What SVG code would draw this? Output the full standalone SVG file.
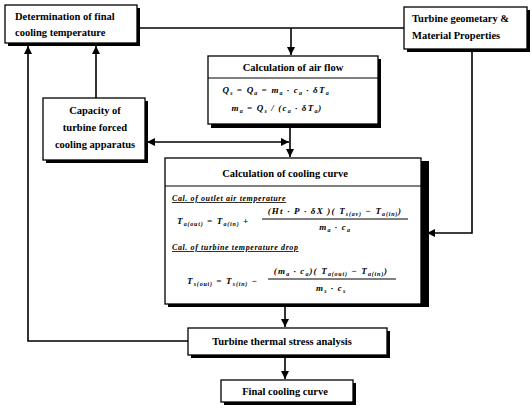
<svg xmlns="http://www.w3.org/2000/svg" width="532" height="409" viewBox="0 0 532 409">
<defs>
<style>
.box{fill:#fff;stroke:#000;stroke-width:1.3}
.sh{fill:#000}
.t{font-family:"Liberation Serif",serif;font-weight:bold;font-size:10.5px;fill:#000}
.f{font-family:"Liberation Serif",serif;font-style:italic;font-weight:bold;font-size:9px;letter-spacing:1.2px;fill:#000}
.s{font-size:6px;letter-spacing:0.8px}
.lab{font-family:"Liberation Serif",serif;font-style:italic;font-weight:bold;font-size:8px;letter-spacing:0.6px;text-decoration:underline}
.ln{stroke:#000;stroke-width:1.6;fill:none}
.fl{stroke:#000;stroke-width:1}
</style>
<marker id="ah" viewBox="0 0 10 10" refX="10" refY="5" markerWidth="8" markerHeight="8" markerUnits="userSpaceOnUse" orient="auto-start-reverse">
<path d="M0,0 L10,5 L0,10 z" fill="#000"/>
</marker>
</defs>

<g id="connectors">
<path class="ln" d="M137,28 H404"/>
<path class="ln" d="M291,28 V55" marker-end="url(#ah)"/>
<path class="ln" d="M96,98 V46" marker-end="url(#ah)"/>
<path class="ln" d="M188,341 H28 V46" marker-end="url(#ah)"/>
<path class="ln" d="M472,52 V233 H427" marker-end="url(#ah)"/>
<path class="ln" d="M290,127 V157" marker-end="url(#ah)"/>
<path class="ln" d="M147,142 H289" marker-start="url(#ah)" marker-end="url(#ah)"/>
<path class="ln" d="M285,307 V327" marker-end="url(#ah)"/>
<path class="ln" d="M285,358 V379" marker-end="url(#ah)"/>
</g>

<g id="final-temp">
<rect class="sh" x="8" y="8" width="132" height="38"/>
<rect class="box" x="5" y="5" width="132" height="38"/>
<text class="t" x="15" y="20">Determination of final</text>
<text class="t" x="15" y="36">cooling temperature</text>
</g>

<g id="turbine-geometry">
<rect class="sh" x="407" y="10" width="123" height="42"/>
<rect class="box" x="404" y="7" width="123" height="42"/>
<text class="t" x="412" y="22">Turbine geometary &amp;</text>
<text class="t" x="412" y="39">Material Properties</text>
</g>

<g id="air-flow">
<rect class="sh" x="211" y="59" width="170" height="69"/>
<rect class="box" x="208" y="56" width="170" height="68"/>
<line class="fl" x1="208" y1="78" x2="378" y2="78"/>
<text class="t" x="293" y="71" text-anchor="middle">Calculation of air flow</text>
<text class="f" x="276" y="93" text-anchor="middle">Q<tspan class="s" dy="2">s</tspan><tspan dy="-2"> = Q</tspan><tspan class="s" dy="2">a</tspan><tspan dy="-2"> = m</tspan><tspan class="s" dy="2">a</tspan><tspan dy="-2"> · c</tspan><tspan class="s" dy="2">a</tspan><tspan dy="-2"> · δT</tspan><tspan class="s" dy="2">a</tspan></text>
<text class="f" x="277" y="111" text-anchor="middle">m<tspan class="s" dy="2">a</tspan><tspan dy="-2"> = Q</tspan><tspan class="s" dy="2">s</tspan><tspan dy="-2"> / (c</tspan><tspan class="s" dy="2">a</tspan><tspan dy="-2"> · δT</tspan><tspan class="s" dy="2">a</tspan><tspan dy="-2">)</tspan></text>
</g>

<g id="capacity">
<rect class="sh" x="46" y="101" width="102" height="62"/>
<rect class="box" x="43" y="98" width="102" height="62"/>
<text class="t" x="95" y="114" text-anchor="middle">Capacity of</text>
<text class="t" x="95" y="131" text-anchor="middle">turbine forced</text>
<text class="t" x="95" y="148" text-anchor="middle">cooling apparatus</text>
</g>

<g id="cooling-curve">
<rect class="sh" x="168" y="161" width="261" height="146"/>
<rect class="box" x="165" y="158" width="256" height="146"/>
<line class="fl" x1="165" y1="186" x2="421" y2="186"/>
<text class="t" x="285" y="177" text-anchor="middle">Calculation of cooling curve</text>
<text class="lab" x="172" y="201">Cal. of outlet air temperature</text>
<text class="f" x="177" y="224">T<tspan class="s" dy="2">a(out)</tspan><tspan dy="-2"> = T</tspan><tspan class="s" dy="2">a(in)</tspan><tspan dy="-2"> +</tspan></text>
<text class="f" x="335" y="214" text-anchor="middle">(Ht · P · δX )( T<tspan class="s" dy="2">s(av)</tspan><tspan dy="-2"> − T</tspan><tspan class="s" dy="2">a(in)</tspan><tspan dy="-2">)</tspan></text>
<line class="fl" x1="262" y1="219" x2="408" y2="219"/>
<text class="f" x="335" y="230" text-anchor="middle">m<tspan class="s" dy="2">a</tspan><tspan dy="-2"> · c</tspan><tspan class="s" dy="2">a</tspan></text>
<text class="lab" x="172" y="250">Cal. of turbine temperature drop</text>
<text class="f" x="187" y="284">T<tspan class="s" dy="2">s(out)</tspan><tspan dy="-2"> = T</tspan><tspan class="s" dy="2">s(in)</tspan><tspan dy="-2"> −</tspan></text>
<text class="f" x="331" y="274" text-anchor="middle">(m<tspan class="s" dy="2">a</tspan><tspan dy="-2"> · c</tspan><tspan class="s" dy="2">a</tspan><tspan dy="-2">)( T</tspan><tspan class="s" dy="2">a(out)</tspan><tspan dy="-2"> − T</tspan><tspan class="s" dy="2">a(in)</tspan><tspan dy="-2">)</tspan></text>
<line class="fl" x1="268" y1="279" x2="396" y2="279"/>
<text class="f" x="331" y="291" text-anchor="middle">m<tspan class="s" dy="2">s</tspan><tspan dy="-2"> · c</tspan><tspan class="s" dy="2">s</tspan></text>
</g>

<g id="stress">
<rect class="sh" x="191" y="331" width="199" height="27"/>
<rect class="box" x="188" y="328" width="199" height="27"/>
<text class="t" x="282" y="345" text-anchor="middle">Turbine thermal stress analysis</text>
</g>

<g id="final-curve">
<rect class="sh" x="224" y="383" width="132" height="22"/>
<rect class="box" x="221" y="380" width="132" height="22"/>
<text class="t" x="285" y="395" text-anchor="middle">Final cooling curve</text>
</g>
</svg>
